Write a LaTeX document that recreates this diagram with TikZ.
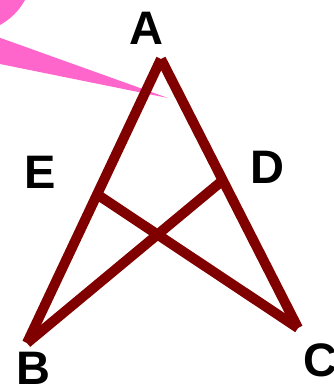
\documentclass[tikz,border=0pt]{standalone}
\usepackage{fontspec}
\setmainfont{Liberation Sans}
\usetikzlibrary{positioning,calc}
\definecolor{Maroon}{HTML}{800000}
\definecolor{Pink}{HTML}{FF66CC}
\tikzset{
  side/.style={line width=10pt,draw=Maroon,line cap=butt},
  ptlab/.style={font=\fontsize{47}{47}\selectfont\bfseries,inner sep=0pt},
  callout/.style={fill=Pink,draw=none}
}
\begin{document}
\begin{tikzpicture}[x=1pt,y=-1pt]
        \useasboundingbox (0,0) rectangle (333,386);
        % pink callout, cut by the frame
        \begin{scope}
          \clip (0,0) rectangle (333,386);
          \fill[callout] (-30,-30) circle (62.6);
          \fill[callout] (-5,36) -- (168,98) -- (-5,63) -- cycle;
        \end{scope}
        % vertices
        \coordinate (a) at (161,59);
        \coordinate (b) at (27,343);
        \coordinate (c) at (298,328);
        \coordinate (e) at (98,195);
        \coordinate (d) at (222,181);
        \draw[side] (a)--(b);
        \draw[side] (a)--(c);
        \draw[side] (b)--(d);
        \draw[side] (c)--(e);
        \node[ptlab] (la) at (146,28) {A};
        \node[ptlab] (le) at (40,172) {E};
        \node[ptlab] (ld) at (267,167) {D};
        \node[ptlab] (lb) at (33,368) {B};
        \node[ptlab] (lc) at (320,360) {C};
      \end{tikzpicture}
\end{document}
